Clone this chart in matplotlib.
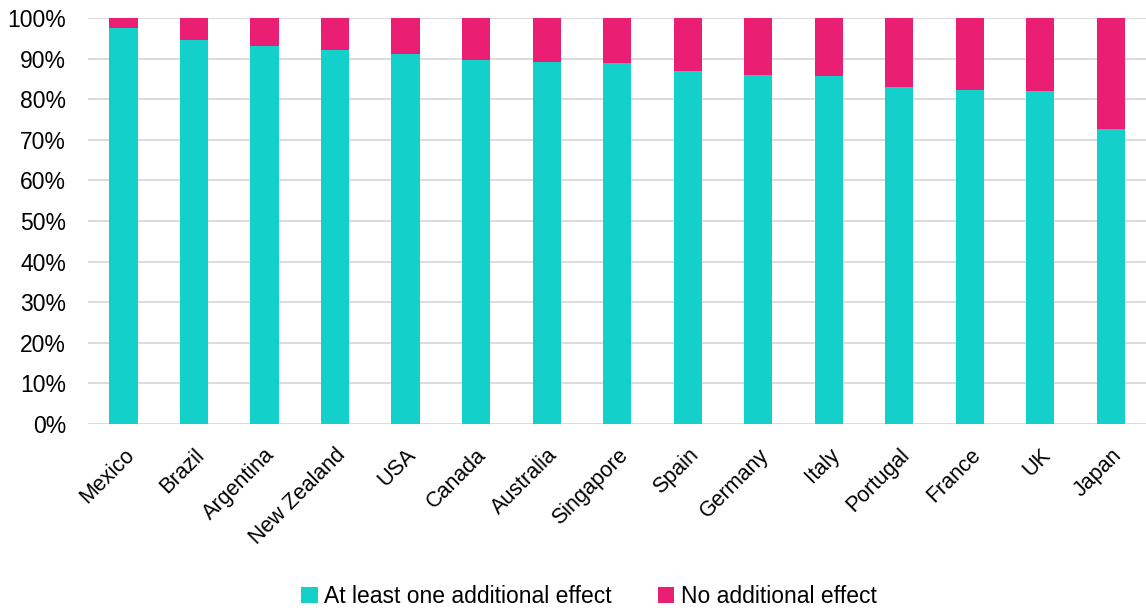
import numpy as np
import matplotlib
matplotlib.use("Agg")
import matplotlib.pyplot as plt
from matplotlib.ticker import PercentFormatter

countries = ["Mexico", "Brazil", "Argentina", "New Zealand", "USA", "Canada",
             "Australia", "Singapore", "Spain", "Germany", "Italy", "Portugal",
             "France", "UK", "Japan"]
at_least_one = [97.5, 94.7, 93.1, 92.1, 91.2, 89.6, 89.2, 88.9, 87.1, 85.9,
                85.7, 83.1, 82.4, 82.1, 72.8]
no_additional = [100 - v for v in at_least_one]

teal = "#14D0CB"
pink = "#EA1F74"

plt.rcParams['font.family'] = ['Liberation Sans', 'DejaVu Sans']

fig = plt.figure(figsize=(11.46, 6.08), dpi=100)
ax = fig.add_axes([0.077, 0.303, 0.923, 0.667])

x = np.arange(len(countries))
ax.bar(x, at_least_one, width=0.4, color=teal, label="At least one additional effect", zorder=3)
ax.bar(x, no_additional, width=0.4, bottom=at_least_one, color=pink,
       label="No additional effect", zorder=3)

ax.set_xlim(-0.5, len(countries) - 0.5)
ax.set_ylim(0, 100)
ax.set_yticks(np.arange(0, 101, 10))
ax.yaxis.set_major_formatter(PercentFormatter(decimals=0))
ax.grid(True, axis='y', color="#D9D9D9", linewidth=1.3, zorder=0)
for s in ["top", "right", "left", "bottom"]:
    ax.spines[s].set_visible(False)
ax.tick_params(axis='both', length=0, colors="#000000")
ax.tick_params(axis='y', labelsize=16.5, pad=16)

ax.set_xticks(x)
ax.set_xticklabels(countries, rotation=45, ha='right', va='top',
                   rotation_mode='anchor', fontsize=15.5)
ax.tick_params(axis='x', pad=15)

fig.legend(loc='center', bbox_to_anchor=(0.514, 0.019), ncol=2, frameon=False,
           fontsize=16.5, handlelength=0.7, handleheight=0.7, handletextpad=0.3,
           columnspacing=2.0)

fig.savefig("out.png", dpi=100)
